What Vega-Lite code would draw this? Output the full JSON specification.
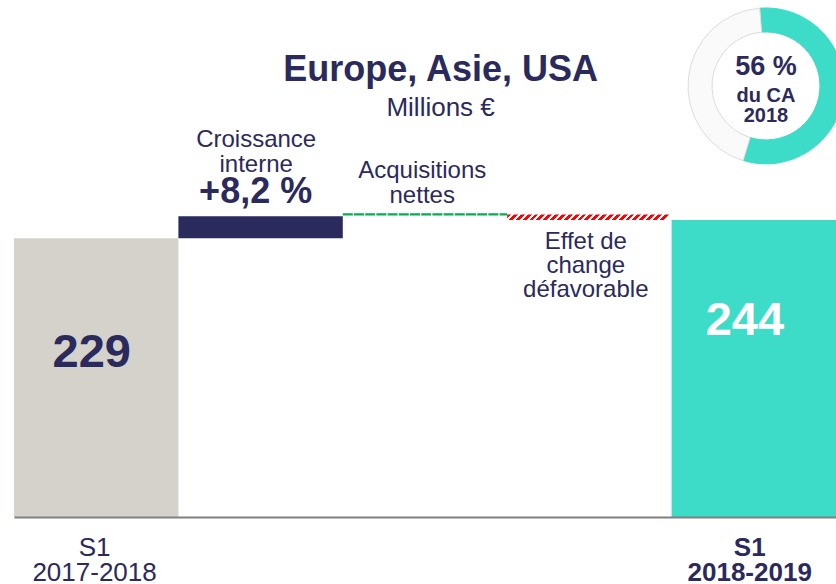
{
  "$schema": "https://vega.github.io/schema/vega-lite/v6.json",
  "width": 822,
  "height": 517,
  "padding": {"left": 14, "top": 0, "right": 0, "bottom": 67},
  "autosize": {"type": "none"},
  "background": "white",
  "config": {"view": {"stroke": null}, "font": "Liberation Sans"},
  "resolve": {"scale": {"color": "independent", "stroke": "independent"}},
  "datasets": {
    "bars": [
      {"cat": "S1 2017-2018", "start": 0, "end": 229, "kind": "total0"},
      {"cat": "Croissance interne", "start": 229, "end": 247.2, "kind": "organic"},
      {"cat": "Acquisitions nettes", "start": 247.2, "end": 248.6, "kind": "acq"},
      {"cat": "Effet de change", "start": 248.6, "end": 244, "kind": "fx"},
      {"cat": "S1 2018-2019", "start": 0, "end": 244, "kind": "total1"}
    ],
    "share": [
      {"part": "Europe, Asie, USA", "pct": 56},
      {"part": "Autres", "pct": 44}
    ],
    "labels": [
      {"id": "title", "lines": ["Europe, Asie, USA"]},
      {"id": "unit", "lines": ["Millions €"]},
      {"id": "organicName", "lines": ["Croissance", "interne"]},
      {"id": "organicPct", "lines": ["+8,2 %"]},
      {"id": "acqName", "lines": ["Acquisitions", "nettes"]},
      {"id": "fxName", "lines": ["Effet de", "change", "défavorable"]},
      {"id": "p0", "lines": ["S1", "2017-2018"]},
      {"id": "p1", "lines": ["S1", "2018-2019"]},
      {"id": "donutPct", "lines": ["56 %"]},
      {"id": "donutSub", "lines": ["du CA", "2018"]}
    ]
  },
  "layer": [
    {
      "data": {"name": "bars"},
      "transform": [{"filter": "datum.kind == 'total0' || datum.kind == 'organic' || datum.kind == 'total1'"}],
      "mark": {"type": "bar"},
      "encoding": {
        "x": {
          "field": "cat", "type": "nominal",
          "scale": {"domain": ["S1 2017-2018", "Croissance interne", "Acquisitions nettes", "Effet de change", "S1 2018-2019"], "paddingInner": 0, "paddingOuter": 0},
          "axis": {"title": null, "labels": false, "ticks": false, "grid": false, "domainColor": "#808080", "domainWidth": 2, "zindex": 1}
        },
        "y": {"field": "start", "type": "quantitative", "scale": {"domain": [0, 424.8], "nice": false, "zero": false}, "axis": null},
        "y2": {"field": "end"},
        "color": {"field": "kind", "type": "nominal", "scale": {"domain": ["total0", "organic", "total1"], "range": ["#d5d2cb", "#2a2a5c", "#3ddcc8"]}, "legend": null}
      }
    },
    {
      "data": {"name": "bars"},
      "transform": [{"filter": "datum.kind == 'fx'"}],
      "mark": {
        "type": "bar",
        "fill": {
          "gradient": "linear", "x1": 0, "y1": 0, "x2": 1, "y2": 0.034,
          "stops": [
            {"offset": 0, "color": "#ff0000"}, {"offset": 0.023, "color": "#ff0000"}, {"offset": 0.023, "color": "#ffffff"}, {"offset": 0.0417, "color": "#ffffff"},
            {"offset": 0.0417, "color": "#ff0000"}, {"offset": 0.0647, "color": "#ff0000"}, {"offset": 0.0647, "color": "#ffffff"}, {"offset": 0.0833, "color": "#ffffff"},
            {"offset": 0.0833, "color": "#ff0000"}, {"offset": 0.1063, "color": "#ff0000"}, {"offset": 0.1063, "color": "#ffffff"}, {"offset": 0.125, "color": "#ffffff"},
            {"offset": 0.125, "color": "#ff0000"}, {"offset": 0.148, "color": "#ff0000"}, {"offset": 0.148, "color": "#ffffff"}, {"offset": 0.1667, "color": "#ffffff"},
            {"offset": 0.1667, "color": "#ff0000"}, {"offset": 0.1897, "color": "#ff0000"}, {"offset": 0.1897, "color": "#ffffff"}, {"offset": 0.2083, "color": "#ffffff"},
            {"offset": 0.2083, "color": "#ff0000"}, {"offset": 0.2313, "color": "#ff0000"}, {"offset": 0.2313, "color": "#ffffff"}, {"offset": 0.25, "color": "#ffffff"},
            {"offset": 0.25, "color": "#ff0000"}, {"offset": 0.273, "color": "#ff0000"}, {"offset": 0.273, "color": "#ffffff"}, {"offset": 0.2917, "color": "#ffffff"},
            {"offset": 0.2917, "color": "#ff0000"}, {"offset": 0.3147, "color": "#ff0000"}, {"offset": 0.3147, "color": "#ffffff"}, {"offset": 0.3333, "color": "#ffffff"},
            {"offset": 0.3333, "color": "#ff0000"}, {"offset": 0.3563, "color": "#ff0000"}, {"offset": 0.3563, "color": "#ffffff"}, {"offset": 0.375, "color": "#ffffff"},
            {"offset": 0.375, "color": "#ff0000"}, {"offset": 0.398, "color": "#ff0000"}, {"offset": 0.398, "color": "#ffffff"}, {"offset": 0.4167, "color": "#ffffff"},
            {"offset": 0.4167, "color": "#ff0000"}, {"offset": 0.4397, "color": "#ff0000"}, {"offset": 0.4397, "color": "#ffffff"}, {"offset": 0.4583, "color": "#ffffff"},
            {"offset": 0.4583, "color": "#ff0000"}, {"offset": 0.4813, "color": "#ff0000"}, {"offset": 0.4813, "color": "#ffffff"}, {"offset": 0.5, "color": "#ffffff"},
            {"offset": 0.5, "color": "#ff0000"}, {"offset": 0.523, "color": "#ff0000"}, {"offset": 0.523, "color": "#ffffff"}, {"offset": 0.5417, "color": "#ffffff"},
            {"offset": 0.5417, "color": "#ff0000"}, {"offset": 0.5647, "color": "#ff0000"}, {"offset": 0.5647, "color": "#ffffff"}, {"offset": 0.5833, "color": "#ffffff"},
            {"offset": 0.5833, "color": "#ff0000"}, {"offset": 0.6063, "color": "#ff0000"}, {"offset": 0.6063, "color": "#ffffff"}, {"offset": 0.625, "color": "#ffffff"},
            {"offset": 0.625, "color": "#ff0000"}, {"offset": 0.648, "color": "#ff0000"}, {"offset": 0.648, "color": "#ffffff"}, {"offset": 0.6667, "color": "#ffffff"},
            {"offset": 0.6667, "color": "#ff0000"}, {"offset": 0.6897, "color": "#ff0000"}, {"offset": 0.6897, "color": "#ffffff"}, {"offset": 0.7083, "color": "#ffffff"},
            {"offset": 0.7083, "color": "#ff0000"}, {"offset": 0.7313, "color": "#ff0000"}, {"offset": 0.7313, "color": "#ffffff"}, {"offset": 0.75, "color": "#ffffff"},
            {"offset": 0.75, "color": "#ff0000"}, {"offset": 0.773, "color": "#ff0000"}, {"offset": 0.773, "color": "#ffffff"}, {"offset": 0.7917, "color": "#ffffff"},
            {"offset": 0.7917, "color": "#ff0000"}, {"offset": 0.8147, "color": "#ff0000"}, {"offset": 0.8147, "color": "#ffffff"}, {"offset": 0.8333, "color": "#ffffff"},
            {"offset": 0.8333, "color": "#ff0000"}, {"offset": 0.8563, "color": "#ff0000"}, {"offset": 0.8563, "color": "#ffffff"}, {"offset": 0.875, "color": "#ffffff"},
            {"offset": 0.875, "color": "#ff0000"}, {"offset": 0.898, "color": "#ff0000"}, {"offset": 0.898, "color": "#ffffff"}, {"offset": 0.9167, "color": "#ffffff"},
            {"offset": 0.9167, "color": "#ff0000"}, {"offset": 0.9397, "color": "#ff0000"}, {"offset": 0.9397, "color": "#ffffff"}, {"offset": 0.9583, "color": "#ffffff"},
            {"offset": 0.9583, "color": "#ff0000"}, {"offset": 0.9813, "color": "#ff0000"}, {"offset": 0.9813, "color": "#ffffff"}, {"offset": 1, "color": "#ffffff"}
          ]
        }
      },
      "encoding": {
        "x": {"field": "cat", "type": "nominal"},
        "y": {"field": "start", "type": "quantitative"},
        "y2": {"field": "end"}
      }
    },
    {
      "data": {"name": "bars"},
      "transform": [{"filter": "datum.kind == 'acq'"}],
      "mark": {"type": "rule", "color": "#00b050", "strokeWidth": 2.2, "strokeDash": [10, 1.2]},
      "encoding": {
        "x": {"field": "cat", "type": "nominal", "bandPosition": 0},
        "x2": {"field": "cat", "bandPosition": 1},
        "y": {"field": "end", "type": "quantitative"}
      }
    },
    {
      "data": {"name": "bars"},
      "transform": [{"filter": "datum.kind == 'total0'"}],
      "mark": {"type": "text", "fontSize": 47, "fontWeight": "bold", "color": "#2a2a5c", "align": "center", "baseline": "alphabetic"},
      "encoding": {
        "x": {"field": "cat", "type": "nominal", "bandPosition": 0.473},
        "y": {"datum": 123.5},
        "text": {"field": "end", "type": "quantitative"}
      }
    },
    {
      "data": {"name": "bars"},
      "transform": [{"filter": "datum.kind == 'total1'"}],
      "mark": {"type": "text", "fontSize": 47, "fontWeight": "bold", "color": "#ffffff", "align": "center", "baseline": "alphabetic"},
      "encoding": {
        "x": {"field": "cat", "type": "nominal", "bandPosition": 0.446},
        "y": {"datum": 149.5},
        "text": {"field": "end", "type": "quantitative"}
      }
    },
    {
      "data": {"name": "share"},
      "mark": {"type": "arc", "innerRadius": 54, "outerRadius": 78, "strokeWidth": 1},
      "encoding": {
        "x": {"datum": "S1 2018-2019", "bandPosition": 0.574},
        "y": {"datum": 354.2},
        "theta": {"field": "pct", "type": "quantitative", "stack": true, "scale": {"range": [-0.08, 6.2032]}},
        "order": {"field": "pct", "sort": "descending"},
        "color": {"field": "part", "type": "nominal", "scale": {"domain": ["Europe, Asie, USA", "Autres"], "range": ["#3ddcc8", "#fafafa"]}, "legend": null},
        "stroke": {"field": "part", "type": "nominal", "scale": {"domain": ["Europe, Asie, USA", "Autres"], "range": ["#3ddcc8", "#dcdcdc"]}, "legend": null}
      }
    },
    {
      "data": {"name": "labels"},
      "transform": [{"filter": "datum.id == 'title'"}],
      "mark": {"type": "text", "fontSize": 36, "fontWeight": "bold", "color": "#2b2a5c", "align": "center", "baseline": "alphabetic"},
      "encoding": {"x": {"datum": "Acquisitions nettes", "bandPosition": 0.595}, "y": {"datum": 358.3}, "text": {"field": "lines"}}
    },
    {
      "data": {"name": "labels"},
      "transform": [{"filter": "datum.id == 'unit'"}],
      "mark": {"type": "text", "fontSize": 26, "color": "#2b2a5c", "align": "center", "baseline": "alphabetic"},
      "encoding": {"x": {"datum": "Acquisitions nettes", "bandPosition": 0.595}, "y": {"datum": 329.5}, "text": {"field": "lines"}}
    },
    {
      "data": {"name": "labels"},
      "transform": [{"filter": "datum.id == 'organicName'"}],
      "mark": {"type": "text", "fontSize": 24, "lineHeight": 24.5, "color": "#2b2a5c", "align": "center", "baseline": "alphabetic"},
      "encoding": {"x": {"datum": "Croissance interne", "bandPosition": 0.473}, "y": {"datum": 304.0}, "text": {"field": "lines"}}
    },
    {
      "data": {"name": "labels"},
      "transform": [{"filter": "datum.id == 'organicPct'"}],
      "mark": {"type": "text", "fontSize": 36, "fontWeight": "bold", "color": "#2b2a5c", "align": "center", "baseline": "alphabetic"},
      "encoding": {"x": {"datum": "Croissance interne", "bandPosition": 0.47}, "y": {"datum": 258.3}, "text": {"field": "lines"}}
    },
    {
      "data": {"name": "labels"},
      "transform": [{"filter": "datum.id == 'acqName'"}],
      "mark": {"type": "text", "fontSize": 24, "lineHeight": 25, "color": "#2b2a5c", "align": "center", "baseline": "alphabetic"},
      "encoding": {"x": {"datum": "Acquisitions nettes", "bandPosition": 0.483}, "y": {"datum": 278.3}, "text": {"field": "lines"}}
    },
    {
      "data": {"name": "labels"},
      "transform": [{"filter": "datum.id == 'fxName'"}],
      "mark": {"type": "text", "fontSize": 24, "lineHeight": 24, "color": "#2b2a5c", "align": "center", "baseline": "alphabetic"},
      "encoding": {"x": {"datum": "Effet de change", "bandPosition": 0.478}, "y": {"datum": 220.0}, "text": {"field": "lines"}}
    },
    {
      "data": {"name": "labels"},
      "transform": [{"filter": "datum.id == 'p0'"}],
      "mark": {"type": "text", "fontSize": 26, "lineHeight": 25.3, "color": "#2b2a5c", "align": "center", "baseline": "alphabetic"},
      "encoding": {"x": {"datum": "S1 2017-2018", "bandPosition": 0.49}, "y": {"datum": -31.8}, "text": {"field": "lines"}}
    },
    {
      "data": {"name": "labels"},
      "transform": [{"filter": "datum.id == 'p1'"}],
      "mark": {"type": "text", "fontSize": 26, "lineHeight": 25.3, "fontWeight": "bold", "color": "#2b2a5c", "align": "center", "baseline": "alphabetic"},
      "encoding": {"x": {"datum": "S1 2018-2019", "bandPosition": 0.475}, "y": {"datum": -31.8}, "text": {"field": "lines"}}
    },
    {
      "data": {"name": "labels"},
      "transform": [{"filter": "datum.id == 'donutPct'"}],
      "mark": {"type": "text", "fontSize": 27, "fontWeight": "bold", "color": "#2b2a5c", "align": "center", "baseline": "alphabetic"},
      "encoding": {"x": {"datum": "S1 2018-2019", "bandPosition": 0.574}, "y": {"datum": 363.2}, "text": {"field": "lines"}}
    },
    {
      "data": {"name": "labels"},
      "transform": [{"filter": "datum.id == 'donutSub'"}],
      "mark": {"type": "text", "fontSize": 20, "lineHeight": 20, "fontWeight": "bold", "color": "#2b2a5c", "align": "center", "baseline": "alphabetic"},
      "encoding": {"x": {"datum": "S1 2018-2019", "bandPosition": 0.574}, "y": {"datum": 341.3}, "text": {"field": "lines"}}
    }
  ]
}
